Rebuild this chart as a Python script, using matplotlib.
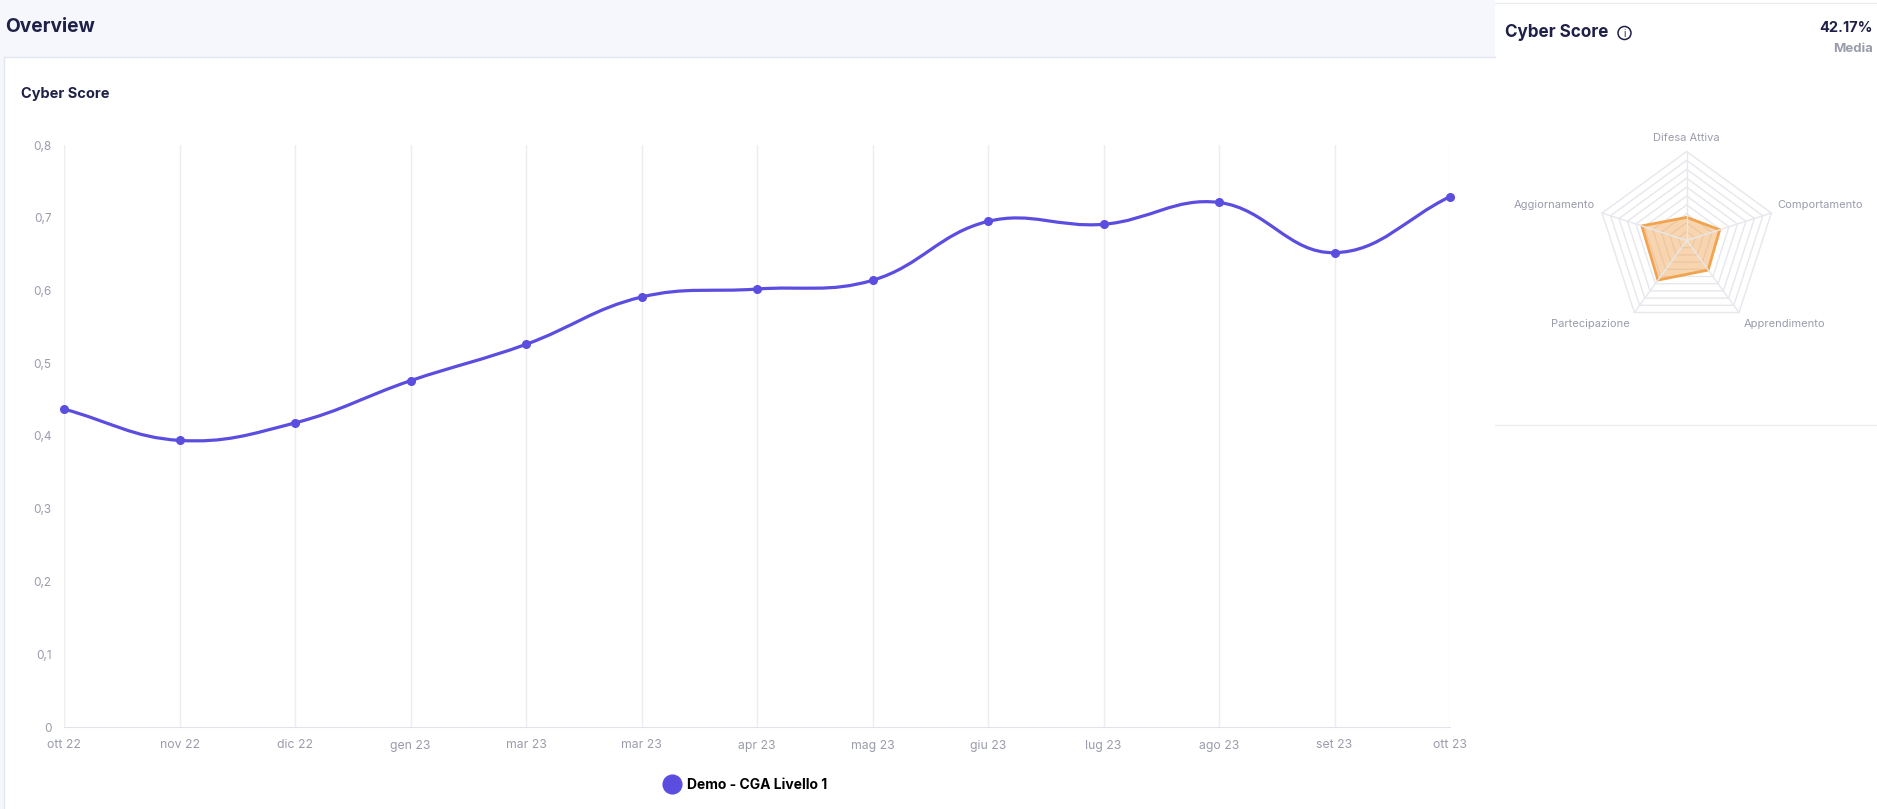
import numpy as np
import matplotlib.pyplot as plt
from matplotlib.path import Path
from matplotlib.patches import PathPatch, Polygon, Circle, Rectangle
from matplotlib.lines import Line2D

plt.rcParams['font.family'] = ['Inter', 'DejaVu Sans']

# data
months = ["ott 22", "nov 22", "dic 22", "gen 23", "mar 23", "mar 23", "apr 23",
          "mag 23", "giu 23", "lug 23", "ago 23", "set 23", "ott 23"]
score = [0.437, 0.394, 0.418, 0.476, 0.526, 0.591, 0.602,
         0.614, 0.695, 0.691, 0.721, 0.652, 0.729]
y_ticks = [0, 0.1, 0.2, 0.3, 0.4, 0.5, 0.6, 0.7, 0.8]
series_name = "Demo - CGA Livello 1"

radar_labels = ["Difesa Attiva", "Comportamento", "Apprendimento", "Partecipazione", "Aggiornamento"]
radar_values = [26, 39, 41, 55, 53]
radar_max = 100
media_value = "42.17%"

W, H = 1877, 809
NAVY = "#1e2047"
GREY = "#9a9cab"
PURPLE = "#5a4de0"
ORANGE = "#f2a34e"

fig = plt.figure(figsize=(W / 100, H / 100), dpi=100)
fig.patch.set_facecolor("white")

# background / card layout in pixel coordinates
bg = fig.add_axes([0, 0, 1, 1], zorder=-10)
bg.set_xlim(0, W)
bg.set_ylim(H, 0)
bg.axis("off")
bg.add_patch(Rectangle((0, 0), 1495, 57, color="#f5f7fd", lw=0))
bg.add_patch(Rectangle((0, 57), 4, H - 57, color="#f5f7fd", lw=0))
bg.plot([4, 1495], [57, 57], color="#e3e6ef", lw=1)
bg.plot([4, 4], [57, H], color="#e3e6ef", lw=1)
bg.plot([1495, W], [3, 3], color="#ebecf0", lw=1)
bg.plot([1495, W], [425, 425], color="#ebecf0", lw=1)

bg.text(5, 27, "Overview", fontsize=13.8, fontweight="bold", color=NAVY, ha="left", va="center")
bg.text(21, 94, "Cyber Score", fontsize=10.5, fontweight="bold", color=NAVY, ha="left", va="center")
bg.text(1505, 32, "Cyber Score", fontsize=12.3, fontweight="bold", color=NAVY, ha="left", va="center")
bg.add_patch(Circle((1624.5, 33), 6.5, fill=False, ec=NAVY, lw=1.1))
bg.text(1624.5, 33.5, "i", fontsize=7, color=NAVY, ha="center", va="center")
bg.text(1873, 28, media_value, fontsize=10.5, fontweight="bold", color=NAVY, ha="right", va="center")
bg.text(1873, 49, "Media", fontsize=9.5, fontweight="bold", color=GREY, ha="right", va="center")

# line chart
x0, x1, ytop, ybot = 64, 1450, 145, 727
ax = fig.add_axes([x0 / W, 1 - ybot / H, (x1 - x0) / W, (ybot - ytop) / H])
x = np.arange(len(months))
ax.set_xlim(0, len(months) - 1)
ax.set_ylim(0, 0.8)

# smooth curve like chart.js (tension 0.4), computed in pixel scale
sx = (x1 - x0) / (len(months) - 1)
sy = (ybot - ytop) / 0.8
pts = np.column_stack([x * sx, np.array(score) * sy])
t = 0.4
n = len(pts)
cp_in, cp_out = [], []
for i in range(n):
    cur = pts[i]
    prev = pts[i - 1] if i > 0 else cur
    nxt = pts[i + 1] if i < n - 1 else cur
    d01 = np.hypot(*(cur - prev))
    d12 = np.hypot(*(nxt - cur))
    tot = d01 + d12
    s01 = d01 / tot if tot else 0
    s12 = d12 / tot if tot else 0
    cp_in.append(cur - t * s01 * (nxt - prev))
    cp_out.append(cur + t * s12 * (nxt - prev))
verts = [pts[0]]
codes = [Path.MOVETO]
for i in range(n - 1):
    verts += [cp_out[i], cp_in[i + 1], pts[i + 1]]
    codes += [Path.CURVE4] * 3
verts = np.array(verts) / [sx, sy]
ax.add_patch(PathPatch(Path(verts, codes), fc="none", ec=PURPLE, lw=2.3,
                       clip_on=False, zorder=3, capstyle="round"))
ax.plot(x, score, "o", color=PURPLE, ms=5.5, clip_on=False, zorder=4)

ax.set_xticks(x)
ax.set_xticklabels(months)
ax.set_yticks(y_ticks)
ax.set_yticklabels([("%g" % v).replace(".", ",") for v in y_ticks])
ax.tick_params(length=0, labelsize=8.5, labelcolor=GREY)
ax.tick_params(axis="x", pad=9, labelsize=8.8)
ax.tick_params(axis="y", pad=9)
ax.grid(axis="x", color="#ececf1", lw=1)
ax.set_axisbelow(True)
for s in ["top", "left", "right"]:
    ax.spines[s].set_visible(False)
ax.spines["bottom"].set_color("#e2e3ea")

handle = Line2D([], [], ls="none", marker="o", ms=13.5, color=PURPLE)
fig.legend([handle], [series_name], loc="center", bbox_to_anchor=(746 / W, 1 - 785 / H),
           frameon=False, handletextpad=0.6, handlelength=1.0,
           prop={"weight": "bold", "size": 10})

# radar chart
R = 89
cx, cy = 1686.7, 240.5
axr = fig.add_axes([(cx - 2 * R) / W, 1 - (cy + 2 * R) / H, 4 * R / W, 4 * R / H])
axr.set_xlim(-2, 2)
axr.set_ylim(-2, 2)
axr.axis("off")
ang = np.deg2rad(90 - 72 * np.arange(len(radar_labels)))
ux, uy = np.cos(ang), np.sin(ang)
for r in np.arange(1, 11) / 10:
    axr.add_patch(Polygon(np.column_stack([ux * r, uy * r]), closed=True,
                          fill=False, ec="#e7e7ec", lw=1))
for k in range(len(ang)):
    axr.plot([0, ux[k]], [0, uy[k]], color="#e7e7ec", lw=1)
vals = np.array(radar_values) / radar_max
axr.add_patch(Polygon(np.column_stack([ux * vals, uy * vals]), closed=True,
                      fc=ORANGE, alpha=0.45, lw=0))
axr.add_patch(Polygon(np.column_stack([ux * vals, uy * vals]), closed=True,
                      fill=False, ec=ORANGE, lw=2))
label_pos = [((0, 13.5), "center", "center"),
             ((6.5, 8), "left", "center"),
             ((4.5, -11.5), "left", "center"),
             ((-4.5, -11.5), "right", "center"),
             ((-7, 8), "right", "center")]
for k, lab in enumerate(radar_labels):
    off, ha, va = label_pos[k]
    axr.annotate(lab, (ux[k], uy[k]), xytext=off, textcoords="offset pixels",
                 ha=ha, va=va, fontsize=8, color=GREY)

fig.savefig("out.png", dpi=100)
